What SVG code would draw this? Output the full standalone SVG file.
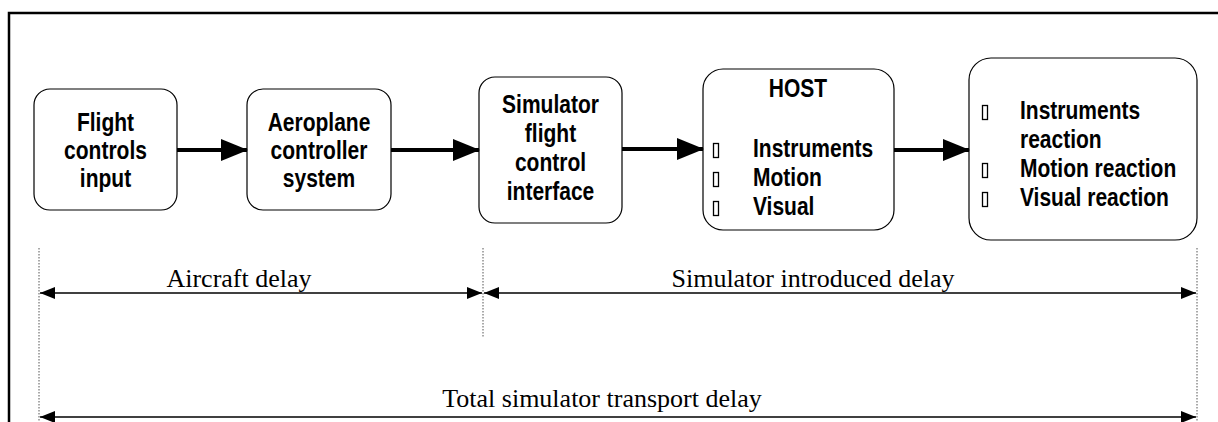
<svg xmlns="http://www.w3.org/2000/svg" width="1218" height="422" viewBox="0 0 1218 422">
<style>
.box{fill:#fff;stroke:#000;stroke-width:1.2}
.b{font-family:"Liberation Sans",Arial,sans-serif;font-weight:bold;font-size:21px;fill:#000}
.c{text-anchor:middle}
.s{font-family:"Liberation Serif","Times New Roman",serif;font-size:26px;fill:#000;text-anchor:middle}
.thick{stroke:#000;stroke-width:4;fill:none;marker-end:url(#big)}
.dim{stroke:#000;stroke-width:1.5;fill:none;marker-start:url(#small);marker-end:url(#small)}
.dot{stroke:#555;stroke-width:1;stroke-dasharray:1.5 1.5;fill:none}
.bul{fill:none;stroke:#000;stroke-width:1.3}
</style>
<defs>
<marker id="big" markerUnits="userSpaceOnUse" markerWidth="27" markerHeight="22" refX="26" refY="11" orient="auto"><path d="M0,0 L27,11 L0,22 z" fill="#000"/></marker>
<marker id="small" markerUnits="userSpaceOnUse" markerWidth="15" markerHeight="12" refX="15" refY="6" orient="auto-start-reverse"><path d="M0,0 L15,6 L0,12 z" fill="#000"/></marker>
</defs>
<rect width="1218" height="422" fill="#fff"/>
<path d="M9,422 V13 H1218" fill="none" stroke="#000" stroke-width="2.5"/>

<g id="n1">
<rect class="box" x="34" y="89" width="143" height="121" rx="16"/>
<text class="b c" transform="translate(105.5,131) scale(1,1.21)">Flight</text>
<text class="b c" transform="translate(105.5,159) scale(1,1.21)">controls</text>
<text class="b c" transform="translate(105.5,187) scale(1,1.21)">input</text>
</g>
<g id="n2">
<rect class="box" x="247" y="89" width="144" height="121" rx="16"/>
<text class="b c" transform="translate(319,131) scale(1,1.21)">Aeroplane</text>
<text class="b c" transform="translate(319,159) scale(1,1.21)">controller</text>
<text class="b c" transform="translate(319,187) scale(1,1.21)">system</text>
</g>
<g id="n3">
<rect class="box" x="479" y="77" width="143" height="146" rx="16"/>
<text class="b c" transform="translate(550.5,113) scale(1,1.21)">Simulator</text>
<text class="b c" transform="translate(550.5,142) scale(1,1.21)">flight</text>
<text class="b c" transform="translate(550.5,171) scale(1,1.21)">control</text>
<text class="b c" transform="translate(550.5,200) scale(1,1.21)">interface</text>
</g>
<g id="n4">
<rect class="box" x="703" y="69" width="191" height="161" rx="20"/>
<text class="b c" transform="translate(798,97) scale(1,1.21)">HOST</text>
<rect class="bul" x="713.5" y="143.5" width="5" height="14"/>
<text class="b" transform="translate(753,157) scale(1,1.21)">Instruments</text>
<rect class="bul" x="713.5" y="172.5" width="5" height="14"/>
<text class="b" transform="translate(753,186) scale(1,1.21)">Motion</text>
<rect class="bul" x="713.5" y="201.5" width="5" height="14"/>
<text class="b" transform="translate(753,215) scale(1,1.21)">Visual</text>
</g>
<g id="n5">
<rect class="box" x="969" y="58" width="228" height="182" rx="22"/>
<rect class="bul" x="982.5" y="105.5" width="5" height="14"/>
<text class="b" transform="translate(1020,119) scale(1,1.21)">Instruments</text>
<text class="b" transform="translate(1020,148) scale(1,1.21)">reaction</text>
<rect class="bul" x="982.5" y="163.5" width="5" height="14"/>
<text class="b" transform="translate(1020,177) scale(1,1.21)">Motion reaction</text>
<rect class="bul" x="982.5" y="192.5" width="5" height="14"/>
<text class="b" transform="translate(1020,206) scale(1,1.21)">Visual reaction</text>
</g>

<g id="connectors">
<line class="thick" x1="177" y1="150" x2="247" y2="150"/>
<line class="thick" x1="391" y1="150" x2="479" y2="150"/>
<line class="thick" x1="622" y1="149" x2="703" y2="149"/>
<line class="thick" x1="894" y1="150" x2="969" y2="150"/>
</g>

<g id="dimensions">
<line class="dot" x1="39" y1="248" x2="39" y2="422"/>
<line class="dot" x1="483" y1="248" x2="483" y2="337"/>
<line class="dot" x1="1197" y1="248" x2="1197" y2="422"/>
<line class="dim" x1="40" y1="293" x2="482" y2="293"/>
<line class="dim" x1="484" y1="293" x2="1196" y2="293"/>
<line class="dim" x1="40" y1="417" x2="1196" y2="417"/>
<text class="s" x="239" y="287">Aircraft delay</text>
<text class="s" x="813" y="287">Simulator introduced delay</text>
<text class="s" x="602" y="407">Total simulator transport delay</text>
</g>
</svg>
